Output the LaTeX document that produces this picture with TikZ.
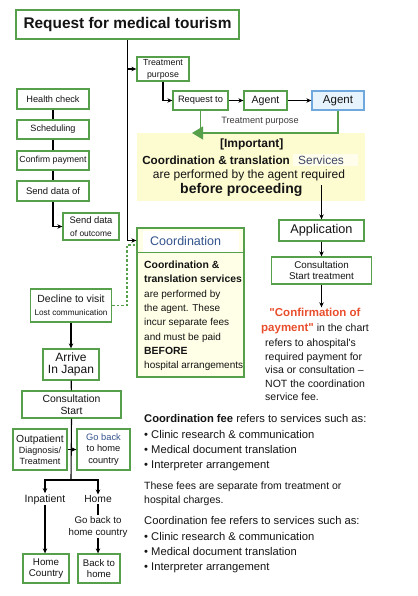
\documentclass[tikz,border=0pt]{standalone}
\usepackage{fontspec}
\setmainfont{Liberation Sans}[Ligatures=TeXOff]
\usepackage{xcolor}
\usetikzlibrary{arrows.meta}
\definecolor{boxgreen}{RGB}{86,160,76}
\definecolor{agentblue}{RGB}{111,168,220}
\definecolor{agentfill}{RGB}{232,244,253}
\definecolor{impyellow}{RGB}{253,251,208}
\definecolor{coordfill}{RGB}{255,254,230}
\definecolor{servfill}{RGB}{255,253,236}
\definecolor{servtext}{RGB}{60,72,100}
\definecolor{headblue}{RGB}{52,84,140}
\definecolor{notered}{RGB}{232,78,44}
\definecolor{labelgray}{RGB}{60,60,60}

\begin{document}
\begin{tikzpicture}[x=1pt,y=-1pt,
      every node/.style={text=black!92, inner sep=1pt, align=center},
      box/.style={draw=boxgreen, line width=1.3pt, fill=white, inner sep=0pt, align=center},
      arr/.style={-{Stealth[length=5pt,width=4.5pt]}, line width=1.1pt},
      link/.style={line width=1.1pt},
      greenlink/.style={draw=boxgreen, line width=1.2pt}
      ]
      \useasboundingbox (0,0) rectangle (417,596);

      \node[box, line width=1.8pt, minimum width=223pt, minimum height=29pt, font=\fontsize{15.4}{18}\selectfont\bfseries] (title) at (127.5,24.5) {Request for medical tourism};

      % agent request
      \node[box, minimum width=52pt, minimum height=24pt, font=\fontsize{8.8}{12}\selectfont] (purpose) at (163,69) {Treatment\\purpose};
      \node[box, minimum width=55pt, minimum height=19pt, font=\fontsize{9.3}{11}\selectfont] (request) at (200.5,100.5) {Request to};
      \node[box, minimum width=43pt, minimum height=19pt, font=\fontsize{10.6}{12}\selectfont] (agent) at (265.5,100.5) {Agent};
      \node[box, draw=agentblue, fill=agentfill, minimum width=52pt, minimum height=19pt, font=\fontsize{11.5}{13}\selectfont] (agentjp) at (338,100.5) {Agent};
      \node[text=labelgray, font=\fontsize{9.2}{11}\selectfont] (purposelab) at (260,121.7) {Treatment purpose};
      \coordinate (purposetip) at (192,133);

      \node[fill=impyellow, minimum width=228pt, minimum height=68pt, inner sep=0pt] (important) at (251,167) {};
      \node[font=\fontsize{12}{14}\selectfont\bfseries] (imptitle) at (251.7,144) {[Important]};
      \node[anchor=east, font=\fontsize{11.7}{14}\selectfont\bfseries] (impline) at (291,160) {Coordination \& translation};
      \node[fill=servfill, anchor=west, text width=55pt, align=left, inner xsep=5pt, inner ysep=1.5pt, text=servtext, font=\fontsize{11.9}{14}\selectfont] (services) at (293,160) {Services};
      \node[font=\fontsize{12}{14}\selectfont] (impdesc) at (249,175) {are performed by the agent required};
      \node[font=\fontsize{14}{16}\selectfont\bfseries] (impbefore) at (241.3,190) {before proceeding};
      \coordinate (impout) at (321.5,185);

      \node[box, minimum width=85pt, minimum height=21pt, font=\fontsize{12.7}{14}\selectfont] (application) at (321.5,230.5) {Application};
      \node[box, minimum width=100pt, minimum height=27pt, font=\fontsize{9.8}{11.3}\selectfont] (treatstart) at (321.5,270.5) {Consultation\\Start treatment};
      \node[font=\fontsize{10.5}{14.2}\selectfont] (paynote) at (315,321) {\textcolor{notered}{\fontsize{11.5}{14.2}\selectfont\bfseries "Confirmation of}\\\textcolor{notered}{\fontsize{11.5}{14.2}\selectfont\bfseries payment"} in the chart};
      \node[anchor=west, align=left, font=\fontsize{10.5}{13.6}\selectfont] (feenote) at (264,370) {refers to ahospital's\\required payment for\\visa or consultation –\\NOT the coordination\\service fee.};

      % coordination
      \node[box, fill=coordfill, minimum width=107pt, minimum height=149pt] (coordbox) at (190.5,302.5) {};
      \node[fill=white, anchor=west, text width=82pt, align=left, inner sep=0pt, inner xsep=7pt, minimum height=21pt, text=headblue, font=\fontsize{12.5}{14}\selectfont] (coordhead) at (143,241) {Coordination};
      \draw[greenlink, line width=1.3pt] ([yshift=-25pt]coordbox.north west) -- ([yshift=-25pt]coordbox.north east);
      \node[anchor=west, align=left, font=\fontsize{10}{14.3}\selectfont] (coordtext) at (143,316) {{\bfseries\fontsize{10.4}{14.3}\selectfont Coordination \&}\\{\bfseries\fontsize{10.4}{14.3}\selectfont translation services}\\are performed by\\the agent. These\\incur separate fees\\and must be paid\\{\bfseries\fontsize{10.4}{14.3}\selectfont BEFORE}\\hospital arrangements};
      \coordinate (coordin) at ([yshift=62pt]coordbox.west);
      \coordinate (dashin) at ([yshift=57.5pt]coordbox.west);
      \coordinate (dashturn) at (127,245);

      % before the trip
      \node[box, minimum width=72pt, minimum height=20pt, font=\fontsize{9.2}{11}\selectfont] (health) at (53,99) {Health check};
      \node[box, minimum width=72pt, minimum height=19pt, font=\fontsize{9.1}{11}\selectfont] (sched) at (53,129.5) {Scheduling};
      \node[box, minimum width=72pt, minimum height=19pt, font=\fontsize{8.8}{11}\selectfont] (confirm) at (53,160.5) {Confirm payment};
      \node[box, minimum width=72pt, minimum height=20pt, font=\fontsize{9.5}{11}\selectfont] (senddata) at (53,191) {Send data of};
      \node[box, minimum width=56pt, minimum height=27pt, font=\fontsize{8.4}{12.3}\selectfont] (outcome) at (91,226.5) {{\fontsize{9.4}{12.3}\selectfont Send data}\\of outcome};

      \node[box, minimum width=81pt, minimum height=33pt, font=\fontsize{8.2}{12.6}\selectfont] (decline) at (71,305.5) {{\fontsize{10.4}{12.6}\selectfont Decline to visit}\\Lost communication};
      \node[box, minimum width=56pt, minimum height=31pt, font=\fontsize{12}{12.3}\selectfont] (arrive) at (71,364.5) {Arrive\\In Japan};
      \node[box, minimum width=99pt, minimum height=27pt, font=\fontsize{10.4}{12}\selectfont] (consstart) at (71.5,404.5) {Consultation\\Start};
      \node[box, minimum width=54pt, minimum height=41pt, font=\fontsize{9}{11}\selectfont] (outpat) at (40,449.5) {{\fontsize{10.3}{11}\selectfont Outpatient}\\Diagnosis/\\Treatment};
      \node[box, minimum width=53pt, minimum height=41pt, font=\fontsize{9.3}{11.3}\selectfont] (goback) at (103.5,449.5) {\textcolor{headblue}{Go back}\\to home\\country};
      \node[font=\fontsize{10.6}{12}\selectfont] (inpatient) at (45,499.3) {Inpatient};
      \node[font=\fontsize{10.3}{12}\selectfont] (home) at (98,499.3) {Home};
      \node[font=\fontsize{9.7}{12}\selectfont] (gohome) at (98,526.7) {Go back to\\home country};
      \node[box, minimum width=46pt, minimum height=29pt, font=\fontsize{9.8}{11.7}\selectfont] (homecountry) at (46,568.5) {Home\\Country};
      \node[box, minimum width=42pt, minimum height=29pt, font=\fontsize{9.6}{11.7}\selectfont] (backhome) at (99,568.5) {Back to\\home};
      \coordinate (split) at (71,480);

      % fees
      \node[anchor=west, align=left, font=\fontsize{11.2}{15.3}\selectfont] (feepara) at (143,443) {\textbf{Coordination fee} refers to services such as:\\\textbullet\ Clinic research \& communication\\\textbullet\ Medical document translation\\\textbullet\ Interpreter arrangement};
      \node[anchor=west, align=left, font=\fontsize{10.5}{14}\selectfont] (sepnote) at (143,494) {These fees are separate from treatment or\\hospital charges.};
      \node[anchor=west, align=left, font=\fontsize{11.2}{15.3}\selectfont] (feepara2) at (143,545) {Coordination fee refers to services such as:\\\textbullet\ Clinic research \& communication\\\textbullet\ Medical document translation\\\textbullet\ Interpreter arrangement};

      \draw[arr] (title.south) |- (coordin);
      \draw[arr] (title.south |- purpose.west) -- (purpose.west);
      \draw[arr] (purpose.south) |- (request.west);
      \draw[arr] (request) -- (agent);
      \draw[arr] (agent) -- (agentjp);
      \draw[greenlink] (request.south) -- (request.south |- purposetip);
      \draw[greenlink, -{Triangle[width=13pt,length=11pt]}] (agentjp.south) |- (purposetip);
      \draw[arr] (impout) -- (application.north);
      \draw[arr] (application) -- (treatstart);
      \draw[arr] (treatstart.south) -- (treatstart.south |- paynote.north);

      \draw[link] (health) -- (sched);
      \draw[link] (sched) -- (confirm);
      \draw[link] (confirm) -- (senddata);
      \draw[arr] (senddata.south) |- (outcome.west);
      \draw[greenlink, dash pattern=on 2.5pt off 2pt] (decline.east) -| (dashturn) -- (dashin);

      \draw[arr] (decline) -- (arrive);
      \draw[link] (arrive) -- (consstart);
      \draw[link] (consstart.south) -- (split);
      \draw[arr] (split) -| (inpatient.north);
      \draw[arr] (split) -| (home.north);
      \draw[arr] (outpat.east) -- (goback.west);
      \draw[arr] (inpatient.south) -- (inpatient.south |- homecountry.north);
      \draw[link] (home.south) -- (gohome.north);
      \draw[arr] (gohome.south) -- (backhome.north -| gohome.south);
\end{tikzpicture}
\end{document}
